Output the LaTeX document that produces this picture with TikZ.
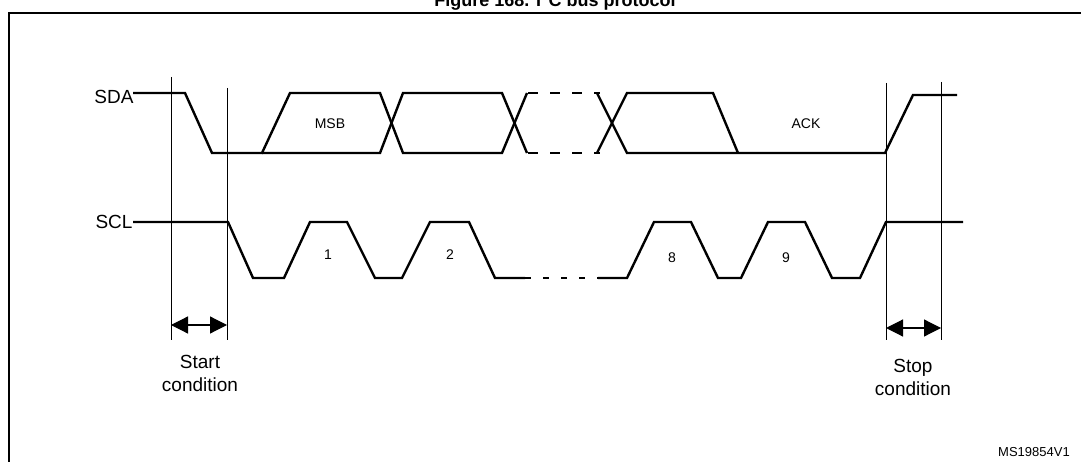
\documentclass[tikz,border=0pt]{standalone}
\usepackage{fontspec}
\setmainfont{Liberation Sans}
\usetikzlibrary{arrows.meta}
\begin{document}
\begin{tikzpicture}[x=1pt,y=-1pt,
  wave/.style={line width=2.4pt,line join=miter},
  thin/.style={line width=0.8pt},
  lbl/.style={font=\fontsize{19}{22}\selectfont,inner sep=0pt},
  sm/.style={font=\fontsize{14}{16}\selectfont,inner sep=0pt},
  dim/.style={line width=1.2pt,{Triangle[length=17pt,width=17pt]}-{Triangle[length=17pt,width=17pt]}}]
\useasboundingbox (0,0) rectangle (1081,462);
\draw[line width=1.2pt] (9,475) -- (9,13) -- (1095,13);
\node[font=\bfseries\fontsize{18}{21}\selectfont,anchor=base] (title) at (555,7) {Figure 168. I\textsuperscript{2}C bus protocol};
\node[lbl] (sda) at (114,97) {SDA};
\node[lbl] (scl) at (114,222) {SCL};
% SDA
\draw[wave] (133,93) -- (185,93) -- (212,153) -- (262,153) -- (290,93) -- (380,93) -- (403,153) -- (502,153) -- (527,93);
\draw[wave] (262,153) -- (380,153) -- (403,93) -- (502,93) -- (527,153);
\draw[wave,dash pattern=on 10pt off 12pt] (528,93) -- (600,93) (528,153) -- (600,153);
\draw[wave] (597,93) -- (627,153) -- (885,153) -- (913,95) -- (957,95);
\draw[wave] (597,153) -- (627,93) -- (713,93) -- (738,153);
\node[sm] (msb) at (330,124) {MSB};
\node[sm] (ack) at (806,124) {ACK};
% SCL
\draw[wave] (133,222) -- (228,222) -- (253,278) -- (284,278) -- (310,222) -- (347,222) -- (375,278) -- (402,278) -- (430,222) -- (469,222) -- (495,278) -- (525,278);
\draw[wave,dash pattern=on 6pt off 12pt] (525,278) -- (598,278);
\draw[wave] (598,278) -- (627,278) -- (654,222) -- (691,222) -- (718,278) -- (741,278) -- (768,222) -- (805,222) -- (832,278) -- (860,278) -- (886,222) -- (963,222);
\node[sm] (n1) at (328,255) {1};
\node[sm] (n2) at (450,255) {2};
\node[sm] (n8) at (672,258) {8};
\node[sm] (n9) at (786,258) {9};
% markers
\coordinate (a1) at (171,325); \coordinate (a2) at (227,325);
\coordinate (b1) at (886,328); \coordinate (b2) at (941,328);
\draw[thin] (171,77) -- (171,340);
\draw[thin] (227,88) -- (227,340);
\draw[thin] (886,83) -- (886,340);
\draw[thin] (941,82) -- (941,340);
\draw[dim] (a1) -- (a2);
\draw[dim] (b1) -- (b2);
\node[lbl,align=center] (start) at (200,373) {Start\\[1pt]condition};
\node[lbl,align=center] (stop) at (913,377) {Stop\\[1pt]condition};
\node[font=\fontsize{13}{15}\selectfont,anchor=west,inner sep=0pt] (ms) at (998,452) {MS19854V1};
\end{tikzpicture}
\end{document}
